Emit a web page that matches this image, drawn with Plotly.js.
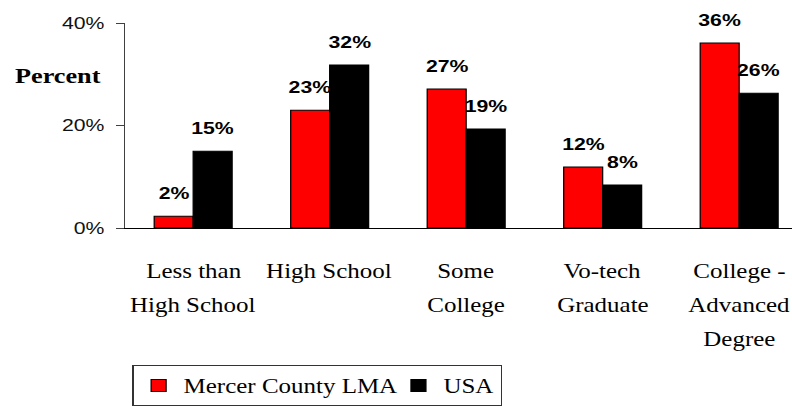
<!DOCTYPE html>
<html><head><meta charset="utf-8">
<script src="https://cdn.plot.ly/plotly-3.0.1.min.js"></script>
<style>
html,body{margin:0;padding:0;background:#fff;overflow:hidden;width:792px;height:406px;}
#wrap{width:634px;height:406px;transform:scaleX(1.2492);transform-origin:0 0;}
</style></head><body>
<div id="wrap"><div id="chart"></div></div>
<script>
const categories = ['Less than High School','High School','Some College','Vo-tech Graduate','College - Advanced Degree'];
const categoryLabels = [['Less than','High School'],['High School'],['Some','College'],['Vo-tech','Graduate'],['College -','Advanced','Degree']];
const seriesNames = ['Mercer County LMA','USA'];
const mercer = [2.3, 23.0, 27.1, 11.9, 36.1];
const usa = [15.0, 31.8, 19.3, 8.4, 26.3];
const yTicks = [0, 20, 40];
const yTickText = ['0%', '20%', '40%'];
const yTitle = 'Percent';

const serif = "'Liberation Serif', 'Times New Roman', serif";
const sans = "'Liberation Sans', Arial, sans-serif";

const traces = [
  {type:'bar', name:seriesNames[0], x:categories, y:mercer, legendwidth:163,
   marker:{color:'#FF0000', line:{color:'#000', width:1}}, hoverinfo:'skip'},
  {type:'bar', name:seriesNames[1], x:categories, y:usa,
   marker:{color:'#000000', line:{color:'#000', width:1}}, hoverinfo:'skip'}
];

const annotations = [];
const halfBar = 15.6;
[mercer, usa].forEach((vals, s) => {
  vals.forEach((v, i) => {
    annotations.push({x:categories[i], y:v, xref:'x', yref:'y', text:Math.round(v)+'%',
      showarrow:false, xanchor:'center', yanchor:'bottom', xshift:(s===0?-halfBar:halfBar), yshift:11,
      font:{family:sans, size:17, color:'#000', weight:'bold'}});
  });
});
categoryLabels.forEach((lines, i) => {
  lines.forEach((ln, j) => {
    annotations.push({x:categories[i], y:0, xref:'x', yref:'y', text:ln, showarrow:false,
      xanchor:'center', yanchor:'top', yshift:-30 - 34*j,
      font:{family:serif, size:20, color:'#000'}});
  });
});
annotations.push({x:-0.168, y:0.741, xref:'paper', yref:'paper', text:'<b>'+yTitle+'</b>', showarrow:false,
  xanchor:'left', yanchor:'middle', font:{family:serif, size:21, color:'#000'}});

const layout = {
  width:634, height:406,
  margin:{l:100, r:0, t:23, b:178, pad:0},
  paper_bgcolor:'#fff', plot_bgcolor:'#fff',
  barmode:'group', bargap:0.429, bargroupgap:0,
  font:{family:serif, color:'#000'},
  xaxis:{type:'category', range:[-0.5, 4.387], showline:true, linecolor:'#000', linewidth:1,
    showticklabels:false, ticks:'', showgrid:false, zeroline:false, fixedrange:true},
  yaxis:{range:[0,40], tickvals:yTicks, ticktext:yTickText, showline:true, linecolor:'#404040', linewidth:1,
    ticks:'outside', ticklen:6, tickcolor:'#404040', ticklabelstandoff:6, showgrid:false, zeroline:false,
    tickfont:{family:sans, size:17, color:'#111'}, fixedrange:true},
  showlegend:true,
  legend:{orientation:'h', x:0.0112, y:-0.668, xanchor:'left', yanchor:'top',
    font:{family:serif, size:20, color:'#000'}, bgcolor:'#fff', bordercolor:'#333', borderwidth:1, traceorder:'normal'},
  annotations:annotations
};
Plotly.newPlot('chart', traces, layout, {staticPlot:true, displayModeBar:false});
</script>
</body></html>
